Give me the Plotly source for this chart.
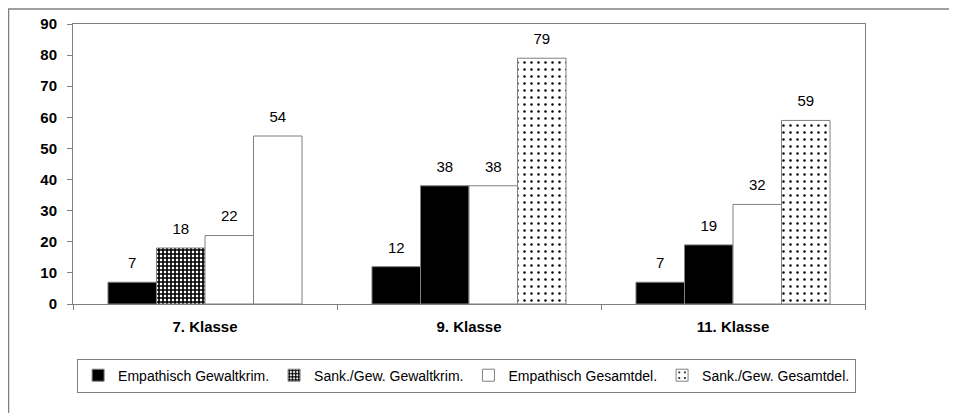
import plotly.graph_objects as go

categories = ["7. Klasse", "9. Klasse", "11. Klasse"]
series_names = ["Empathisch Gewaltkrim.", "Sank./Gew. Gewaltkrim.",
                "Empathisch Gesamtdel.", "Sank./Gew. Gesamtdel."]
emp_gewalt = [7, 12, 7]
sank_gewalt = [18, 38, 19]
emp_gesamt = [22, 38, 32]
sank_gesamt = [54, 79, 59]
values = [emp_gewalt, sank_gewalt, emp_gesamt, sank_gesamt]
y_ticks = [0, 10, 20, 30, 40, 50, 60, 70, 80, 90]

FONT = "Arial, Liberation Sans, sans-serif"
GRAY = "#808080"

# fill styles
BLACK = dict(color="black", pattern=dict(shape=""))
CHECK = dict(color="white", pattern=dict(shape="+", fgcolor="black", bgcolor="white",
                                         size=4, solidity=0.65, fillmode="replace"))
WHITE = dict(color="white", pattern=dict(shape=""))
DOTS = dict(color="white", pattern=dict(shape=".", fgcolor="black", bgcolor="white",
                                        size=7, solidity=0.1, fillmode="replace"))

# style of each point of each series (as in the original chart)
point_styles = [
    ["BLACK", "BLACK", "BLACK"],
    ["CHECK", "BLACK", "BLACK"],
    ["WHITE", "WHITE", "WHITE"],
    ["WHITE", "DOTS", "DOTS"],
]
legend_styles = ["BLACK", "CHECK", "WHITE", "DOTS"]
STYLES = {"BLACK": BLACK, "CHECK": CHECK, "WHITE": WHITE, "DOTS": DOTS}

fig = go.Figure()

for i, (name, vals) in enumerate(zip(series_names, values)):
    styles = point_styles[i]
    for key in dict.fromkeys(styles):
        idx = [j for j, s in enumerate(styles) if s == key]
        st = STYLES[key]
        fig.add_trace(go.Bar(
            x=[categories[j] for j in idx], y=[vals[j] for j in idx],
            name=name, showlegend=False, offsetgroup=f"s{i}",
            marker=dict(color=st["color"], line=dict(color=GRAY, width=1),
                        pattern=st["pattern"]),
        ))
    ls = STYLES[legend_styles[i]]
    fig.add_trace(go.Bar(
        x=[categories[0]], y=[None], name=name, showlegend=True,
        offsetgroup=f"s{i}",
        marker=dict(color=ls["color"], line=dict(color=GRAY, width=1),
                    pattern=ls["pattern"]),
    ))

# value labels, grouped like the bars
for i, (name, vals) in enumerate(zip(series_names, values)):
    fig.add_trace(go.Scatter(
        x=categories, y=vals, mode="markers+text", text=[str(v) for v in vals],
        textposition="top center", offsetgroup=f"s{i}",
        textfont=dict(family=FONT, size=15, color="black"),
        marker=dict(size=15, opacity=0),
        showlegend=False, hoverinfo="skip", cliponaxis=False,
    ))

fig.update_layout(
    width=949, height=405,
    margin=dict(l=65, r=92, t=16, b=109, autoexpand=False),
    paper_bgcolor="white", plot_bgcolor="white",
    barmode="group", bargap=0.265, bargroupgap=0,
    scattermode="group", scattergap=0.265,
    font=dict(family=FONT, color="black"),
    showlegend=True,
    legend=dict(
        orientation="h", x=0.497, xanchor="center", y=-0.195, yanchor="top",
        bordercolor=GRAY, borderwidth=1, bgcolor="white",
        font=dict(family=FONT, size=14, color="black"),
        itemwidth=30, tracegroupgap=0, itemclick=False,
    ),
    xaxis=dict(
        type="category", showline=True, linecolor=GRAY, linewidth=1, mirror=True,
        ticks="outside", tickson="boundaries", ticklen=5, tickcolor=GRAY,
        tickfont=dict(family=FONT, size=15, color="black", weight="bold"),
        ticklabelstandoff=9, showgrid=False, zeroline=False,
    ),
    yaxis=dict(
        range=[0, 90], tickvals=y_ticks, showline=True, linecolor=GRAY, linewidth=1,
        mirror=True, ticks="outside", ticklen=5, tickcolor=GRAY,
        tickfont=dict(family=FONT, size=15, color="black", weight="bold"),
        ticklabelstandoff=7, showgrid=False, zeroline=False,
    ),
    shapes=[dict(type="rect", xref="paper", yref="paper",
                 x0=-64.5 / 792, x1=1.2, y0=-0.6, y1=1 + 15 / 280,
                 line=dict(color=GRAY, width=1.5), layer="below")],
)

fig.write_html("out.html")
